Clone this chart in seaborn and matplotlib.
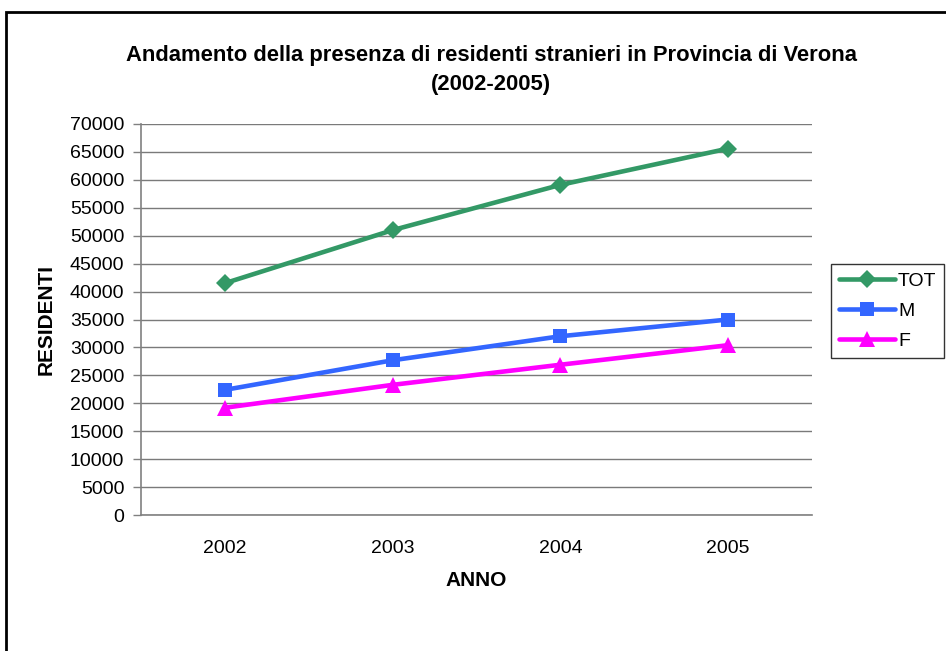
import pandas as pd
import matplotlib
matplotlib.use('Agg')
import matplotlib.pyplot as plt
import seaborn as sns
from matplotlib.patches import Rectangle

# Dati
anni = ['2002', '2003', '2004', '2005']
tot = [41500, 51000, 59100, 65600]
maschi = [22400, 27700, 32000, 35000]
femmine = [19200, 23300, 26900, 30400]
y_ticks = list(range(0, 70001, 5000))

df = pd.DataFrame({'ANNO': anni * 3,
                   'RESIDENTI': tot + maschi + femmine,
                   'serie': ['TOT'] * 4 + ['M'] * 4 + ['F'] * 4})

sns.set_style('white')
plt.rcParams['font.family'] = ['Liberation Sans', 'DejaVu Sans']
plt.rcParams['text.color'] = 'black'
plt.rcParams['xtick.color'] = 'black'
plt.rcParams['ytick.color'] = 'black'
plt.rcParams['axes.labelcolor'] = 'black'

fig = plt.figure(figsize=(9.46, 6.51), dpi=100)
ax = fig.add_axes([141 / 946, 1 - 515 / 651, 671 / 946, 391 / 651])

colori = {'TOT': '#339966', 'M': '#3366FF', 'F': '#FF00FF'}
marker = {'TOT': 'D', 'M': 's', 'F': '^'}
size = {'TOT': 9, 'M': 10, 'F': 12}
for s in ['TOT', 'M', 'F']:
    sub = df[df['serie'] == s]
    sns.lineplot(data=sub, x='ANNO', y='RESIDENTI', ax=ax, color=colori[s],
                 marker=marker[s], markersize=size[s], markeredgewidth=0,
                 linewidth=3.3, label=s, zorder=3)

ax.set_xlim(-0.5, len(anni) - 0.5)
ax.set_ylim(0, 70000)
ax.set_yticks(y_ticks)
ax.set_yticklabels([str(v) for v in y_ticks], fontsize=14)
ax.set_xticks([i - 0.5 for i in range(len(anni) + 1)])
ax.set_xticklabels([])
ax.set_xticks(range(len(anni)), minor=True)
ax.set_xticklabels(anni, minor=True, fontsize=14)
ax.tick_params(axis='x', which='major', direction='out', length=6, color='#808080', width=1)
ax.tick_params(axis='x', which='minor', length=0, pad=18)
ax.tick_params(axis='y', direction='out', length=6, color='#808080', width=1, pad=6, left=True)

ax.grid(axis='y', color='#7a7a7a', linewidth=1)
ax.grid(axis='x', visible=False)
for sp in ['top', 'right']:
    ax.spines[sp].set_visible(False)
for sp in ['left', 'bottom']:
    ax.spines[sp].set_color('#808080')
    ax.spines[sp].set_linewidth(1.2)

ax.set_xlabel('ANNO', fontsize=15, fontweight='bold', va='center')
ax.set_ylabel('RESIDENTI', fontsize=15, fontweight='bold', va='center')
ax.xaxis.set_label_coords(0.5, (515 - 580) / 391)
ax.yaxis.set_label_coords((46 - 141) / 671, 0.5)

fig.text(491 / 946, 1 - 70 / 651,
         'Andamento della presenza di residenti stranieri in Provincia di Verona\n(2002-2005)',
         ha='center', va='center', fontsize=15.8, fontweight='bold', linespacing=1.45)

leg = ax.legend(loc='center left', bbox_to_anchor=(831 / 946, 1 - 311 / 651),
                bbox_transform=fig.transFigure, fontsize=14, frameon=True,
                fancybox=False, handlelength=2.9, labelspacing=0.65,
                borderpad=0.4, handletextpad=0.15, borderaxespad=0)
leg.get_frame().set_edgecolor('black')
leg.get_frame().set_linewidth(1)

# cornice esterna del grafico
fig.patches.append(Rectangle((6 / 946, -0.1), 2, 1.1 - 12 / 651, transform=fig.transFigure,
                             fill=False, edgecolor='black', linewidth=2))

plt.savefig('out.png', dpi=100)
